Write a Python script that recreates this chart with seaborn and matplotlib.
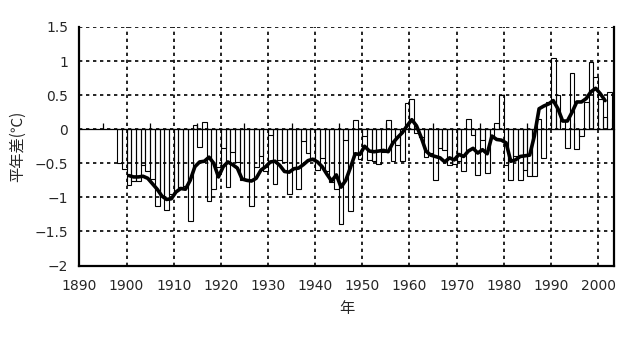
import numpy as np
import pandas as pd
import matplotlib
matplotlib.use("Agg")
import matplotlib.pyplot as plt
import seaborn as sns

# ---- data ----
bar_years = list(range(1898, 2004))
bar_values = [
    -0.49, -0.58,                                            # 1898-1899
    -0.82, -0.76, -0.76, -0.53, -0.61, -0.73, -1.12, -0.98, -1.18, -0.95,  # 1900s
    -0.90, -0.85, -0.84, -1.34, 0.06, -0.26, 0.11, -1.05, -0.87, -0.55,    # 1910s
    -0.28, -0.85, -0.33, -0.48, -0.75, -0.74, -1.13, -0.55, -0.40, -0.62,  # 1920s
    -0.08, -0.81, -0.45, -0.48, -0.95, -0.57, -0.88, -0.17, -0.35, -0.45,  # 1930s
    -0.60, -0.42, -0.62, -0.77, -0.88, -1.39, -0.16, -1.20, 0.14, -0.43,   # 1940s
    -0.10, -0.45, -0.47, -0.51, -0.33, 0.14, -0.47, -0.23, -0.47, 0.38,    # 1950s
    0.44, -0.05, -0.12, -0.41, -0.35, -0.74, -0.28, -0.30, -0.52, -0.51,   # 1960s
    -0.47, -0.62, 0.15, -0.08, -0.67, -0.16, -0.64, -0.13, 0.09, 0.50,     # 1970s
    -0.52, -0.75, -0.40, -0.74, -0.60, -0.69, -0.69, 0.15, -0.42, 0.40,    # 1980s
    1.04, 0.50, 0.14, -0.28, 0.82, -0.29, -0.10, 0.40, 0.99, 0.77,         # 1990s
    0.45, 0.18, 0.54, 0.15,                                               # 2000-2003
]
mean_years = list(range(1900, 2002))
mean_values = [
    -0.68, -0.70, -0.70, -0.69, -0.72, -0.80, -0.88, -0.98, -1.03, -1.02,  # 1900s
    -0.92, -0.87, -0.88, -0.75, -0.55, -0.48, -0.47, -0.41, -0.50, -0.70,  # 1910s
    -0.55, -0.48, -0.52, -0.57, -0.73, -0.75, -0.76, -0.72, -0.60, -0.55,  # 1920s
    -0.48, -0.47, -0.53, -0.62, -0.63, -0.58, -0.57, -0.52, -0.46, -0.44,  # 1930s
    -0.48, -0.55, -0.66, -0.76, -0.67, -0.85, -0.75, -0.56, -0.36, -0.37,  # 1940s
    -0.25, -0.32, -0.33, -0.32, -0.31, -0.33, -0.20, -0.12, -0.05, 0.05,   # 1950s
    0.14, 0.05, -0.12, -0.32, -0.38, -0.40, -0.42, -0.48, -0.42, -0.45,    # 1960s
    -0.37, -0.40, -0.32, -0.28, -0.35, -0.30, -0.36, -0.10, -0.15, -0.16,  # 1970s
    -0.20, -0.47, -0.45, -0.40, -0.39, -0.38, -0.10, 0.30, 0.34, 0.37,     # 1980s
    0.42, 0.30, 0.12, 0.12, 0.25, 0.40, 0.40, 0.45, 0.55, 0.60,            # 1990s
    0.52, 0.42,                                                           # 2000-2001
]
x_ticks = list(range(1890, 2001, 10))
zero_ticks = list(range(1895, 2000, 10))
y_ticks = [-2, -1.5, -1, -0.5, 0, 0.5, 1, 1.5]
y_ticklabels = ["\u22122", "\u22121.5", "\u22121", "\u22120.5", "0", "0.5", "1", "1.5"]
x_label = "年"
y_label = "平年差(℃)"
y_min, y_max = -2, 1.5

# ---- figure ----
sns.set_style("white")
plt.rcParams["font.family"] = ["DejaVu Sans", "Noto Sans CJK JP"]

fig = plt.figure(figsize=(6.32, 3.37), dpi=100)
ax = fig.add_axes([0.1256, 0.212, 0.846, 0.708])

bars = pd.DataFrame({"year": np.array(bar_years) + 0.5, "value": bar_values})
sns.barplot(data=bars, x="year", y="value", native_scale=True, width=1.0,
            color="white", edgecolor="black", linewidth=0.8, saturation=1,
            errorbar=None, ax=ax, zorder=3)
for p in ax.patches:
    p.set_facecolor("none")

means = pd.DataFrame({"year": np.array(mean_years) + 0.5, "value": mean_values})
sns.lineplot(data=means, x="year", y="value", color="black", linewidth=2.6,
             ax=ax, zorder=5)

ax.set_xlim(1890, 2003.4)
ax.set_ylim(y_min, y_max)
ax.set_xticks(x_ticks)
ax.set_xticklabels([str(t) for t in x_ticks], fontsize=10)
ax.set_yticks(y_ticks)
ax.set_yticklabels(y_ticklabels, fontsize=10)
ax.tick_params(axis="x", direction="in", length=4, width=1, pad=10)
ax.tick_params(axis="y", length=0, pad=8)

ax.grid(True, color="black", linestyle=(0, (2, 2.2)), linewidth=1.2, zorder=1)

for side in ["left", "right", "bottom"]:
    ax.spines[side].set_color("black")
    ax.spines[side].set_linewidth(1.6)
ax.spines["top"].set_visible(False)

# horizontal axis line crossing at zero, with its own small tick marks
zero_pos = (0 - y_min) / (y_max - y_min)
sec = ax.secondary_xaxis(zero_pos)
sec.set_xticks(zero_ticks)
sec.set_xticklabels([])
sec.tick_params(axis="x", direction="out", length=4, width=0.9, colors="black")
sec.spines["top"].set_linewidth(0.9)
sec.spines["bottom"].set_linewidth(0.9)
for s in sec.spines.values():
    s.set_color("black")
    s.set_zorder(4)

ax.set_xlabel(x_label, family=["Noto Sans CJK JP"], fontsize=11, labelpad=5)
ax.set_ylabel(y_label, family=["Noto Sans CJK JP"], fontsize=11, labelpad=6)

fig.savefig("out.png", dpi=100)
